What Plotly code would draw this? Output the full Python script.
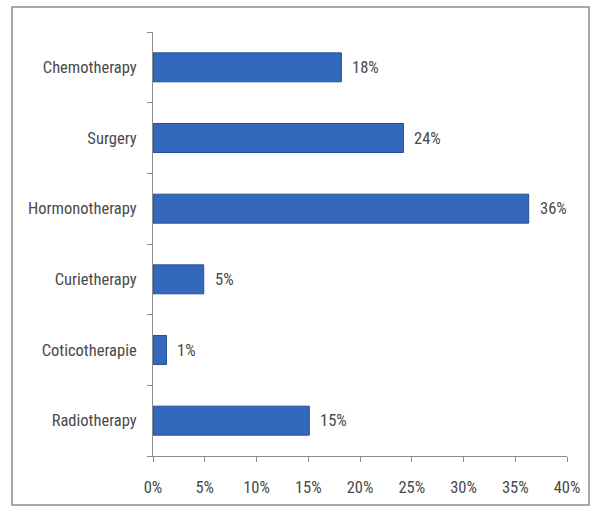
import plotly.graph_objects as go

categories = ["Chemotherapy", "Surgery", "Hormonotherapy", "Curietherapy", "Coticotherapie", "Radiotherapy"]
values = [18.2, 24.2, 36.3, 4.9, 1.3, 15.1]
labels = ["18%", "24%", "36%", "5%", "1%", "15%"]
tick_vals = [0, 5, 10, 15, 20, 25, 30, 35, 40]
tick_text = ["0%", "5%", "10%", "15%", "20%", "25%", "30%", "35%", "40%"]

font_fam = "Liberation Sans Narrow, Roboto Condensed, Open Sans, sans-serif"
grey = "#4A4A4A"
fs = 16.5

fig = go.Figure()
fig.add_trace(go.Bar(
    y=categories, x=values, orientation="h",
    marker=dict(color="#3368BC", line=dict(color="#27508F", width=1)),
    hoverinfo="skip",
))

for c, v, t in zip(categories, values, labels):
    fig.add_annotation(x=v, y=c, text=t, showarrow=False, xanchor="left",
                       xshift=9, font=dict(family=font_fam, size=fs, color=grey))

W, H = 595, 512
L, R, T, B = 153, 567, 32, 456
pw, ph = R - L, B - T
def px(x): return (x - L) / pw
def py(y): return (B - y) / ph

fig.add_shape(type="rect", xref="paper", yref="paper",
              x0=px(12), x1=px(589), y0=py(505), y1=py(7),
              line=dict(color="#8C8C8C", width=1.5), fillcolor="rgba(0,0,0,0)", layer="below")

fig.update_layout(
    width=W, height=H,
    margin=dict(l=L, r=W - R, t=T, b=H - B, pad=0),
    paper_bgcolor="white", plot_bgcolor="white",
    bargap=0.59, showlegend=False,
    font=dict(family=font_fam, size=fs, color=grey),
)
fig.update_xaxes(range=[0, 40], tickvals=tick_vals, ticktext=tick_text,
                 showgrid=False, zeroline=False, showline=True, linecolor="#8C8C8C",
                 linewidth=1, ticks="outside", ticklen=5, tickcolor="#8C8C8C",
                 ticklabelstandoff=11,
                 tickfont=dict(family=font_fam, size=fs, color=grey))
fig.update_yaxes(categoryorder="array", categoryarray=categories[::-1],
                 showgrid=False, showline=True, linecolor="#8C8C8C", linewidth=1,
                 ticks="outside", ticklen=5, tickcolor="#8C8C8C", tickson="boundaries",
                 ticklabelstandoff=12,
                 tickfont=dict(family=font_fam, size=fs, color=grey))

fig.write_html("out.html")
